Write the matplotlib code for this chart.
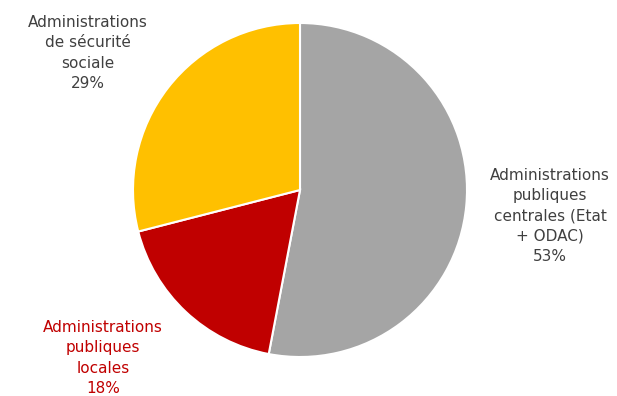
import matplotlib
matplotlib.use("Agg")
import matplotlib.pyplot as plt

# --- data ---
labels = ["Administrations\npubliques\ncentrales (Etat\n+ ODAC)",
          "Administrations\npubliques\nlocales",
          "Administrations\nde sécurité\nsociale"]
shares = [53, 18, 29]
colors = ["#A5A5A5", "#C00000", "#FFC000"]
text_colors = ["#404040", "#C00000", "#404040"]

# label anchor positions in pixel space (x, y from top)
label_pos = [(550, 216), (103, 358), (88, 53)]

W, H = 617, 396
fig = plt.figure(figsize=(W / 100, H / 100), dpi=100)
ax = fig.add_axes([0, 0, 1, 1])

ax.pie(shares, colors=colors, startangle=90, counterclock=False,
       center=(300, H - 190), radius=167,
       wedgeprops=dict(edgecolor="white", linewidth=1.5))

ax.set_xlim(0, W)
ax.set_ylim(0, H)
ax.set_aspect("equal")
ax.axis("off")

for lab, val, (x, y), c in zip(labels, shares, label_pos, text_colors):
    ax.text(x, H - y, f"{lab}\n{val}%", ha="center", va="center",
            fontsize=11, color=c, linespacing=1.45, family="DejaVu Sans")

fig.savefig("out.png", dpi=100)
